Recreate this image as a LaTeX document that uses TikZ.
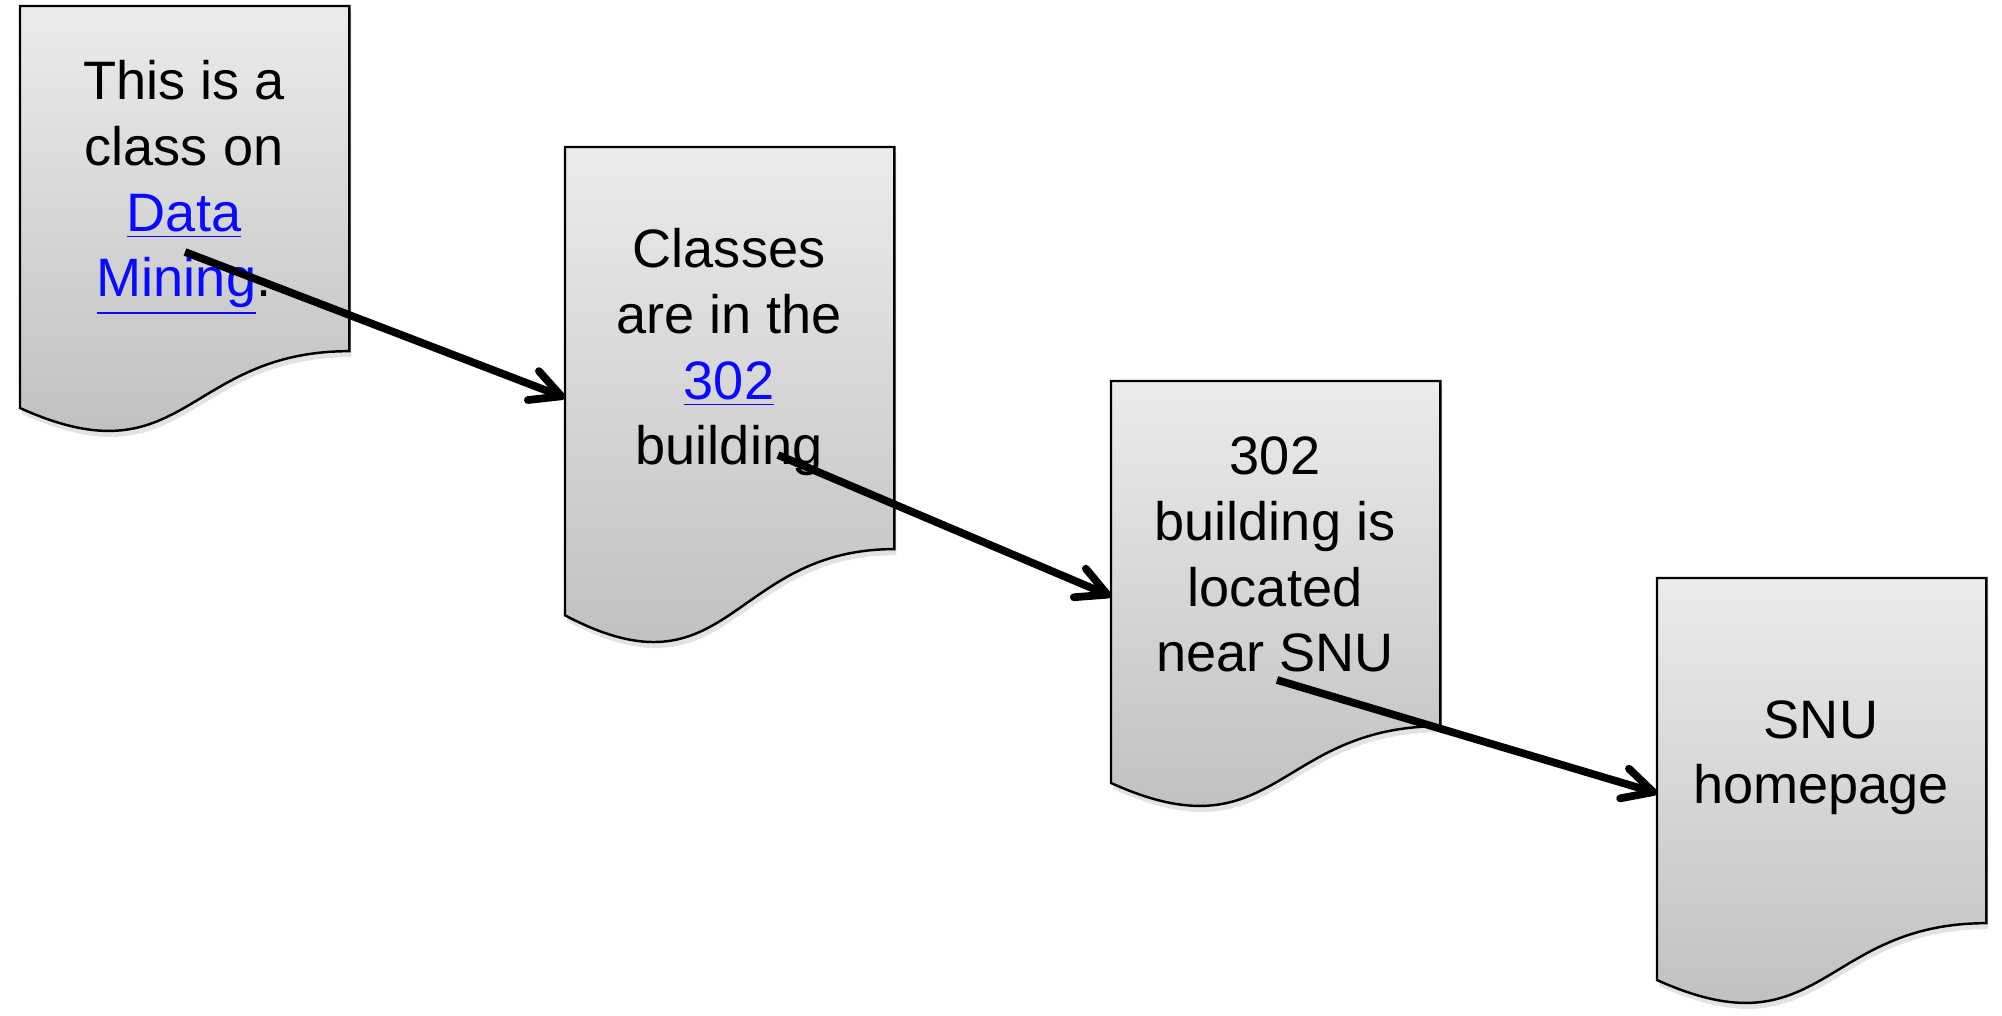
\documentclass[tikz,border=0pt]{standalone}
\usepackage{fontspec}
\setmainfont{Liberation Sans}
\usepackage{xcolor}
\usepackage{tikz}
\usetikzlibrary{arrows.meta,calc,shadows}
\definecolor{PageTop}{HTML}{EBEBEB}
\definecolor{PageBottom}{HTML}{BCBCBC}
\definecolor{LinkBlue}{HTML}{0A0AFF}
\newcommand{\weblink}[1]{\textcolor{LinkBlue}{\underline{#1}}}
\newcommand{\pageoutline}[1]{%
  \path[pageshape] (#1.north west) -- (#1.north east)
    -- ($(#1.north east)!0.802!(#1.south east)$)
    .. controls ($(#1.north)!0.802!(#1.south)$) and ($(#1.north)!1.1075!(#1.south)$)
    .. ($(#1.north west)!0.934!(#1.south west)$) -- cycle;}

\begin{document}
\begin{tikzpicture}[x=1cm,y=1cm,
  pagebox/.style={minimum width=3.28cm,inner sep=0pt,anchor=north west},
  pageshape/.style={draw=black,line width=0.7pt,top color=PageTop,bottom color=PageBottom,
    drop shadow={opacity=0.22,shadow xshift=0.02cm,shadow yshift=-0.06cm}},
  pagetext/.style={align=center,anchor=base,font=\fontsize{15.4}{18.7}\selectfont},
  link/.style={line width=2.2pt,-{Straight Barb[length=3mm,width=3.1mm,round]}}]
\path[use as bounding box] (0,0) rectangle (20.02,10.16);
% pages
\node[pagebox,minimum height=4.29cm] (page1) at (0.20,10.10) {};
\node[pagebox,minimum height=5.00cm] (page2) at (5.65,8.69) {};
\node[pagebox,minimum height=4.29cm] (page3) at (11.11,6.35) {};
\node[pagebox,minimum height=4.29cm] (page4) at (16.57,4.38) {};
\pageoutline{page1}
\pageoutline{page2}
\pageoutline{page3}
\pageoutline{page4}
% texts (base = last line)
\node[pagetext] (text1) at (1.84,7.19) {This is a\\class on\\\weblink{Data}\\\weblink{Mining}.};
\node[pagetext] (text2) at (7.29,5.51) {Classes\\are in the\\\weblink{302}\\building};
\node[pagetext] (text3) at (12.75,3.44) {302\\building is\\located\\near SNU};
\node[pagetext] (text4) at (18.21,2.12) {SNU\\homepage};
% links
\coordinate (from1) at (1.85,7.64);
\coordinate (from2) at (7.78,5.61);
\coordinate (from3) at (12.77,3.36);
\draw[link] (from1) -- (page2.west);
\draw[link] (from2) -- (page3.west);
\draw[link] (from3) -- (page4.west);
\end{tikzpicture}
\end{document}
